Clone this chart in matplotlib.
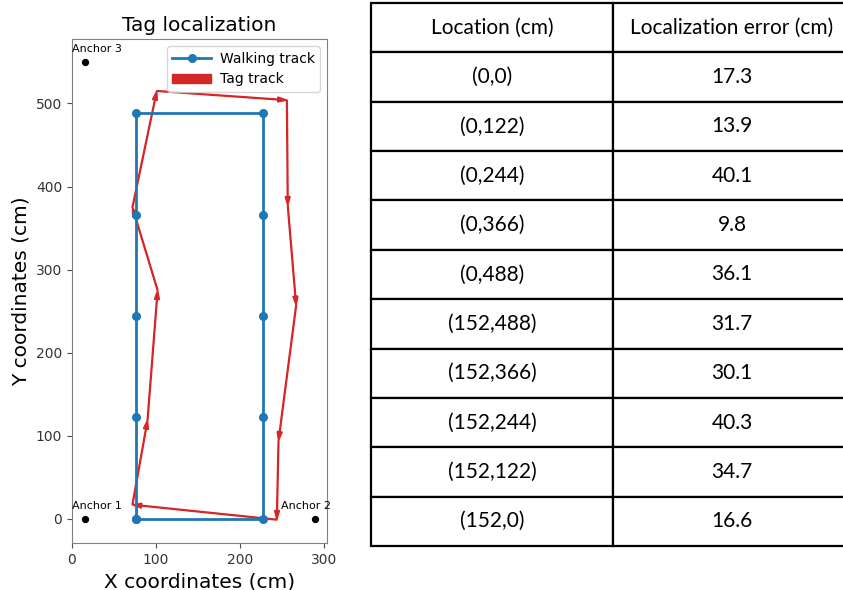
import numpy as np
import matplotlib
matplotlib.use('Agg')
import matplotlib.pyplot as plt

# walking track (rectangle, cm)
walk_x = [76, 76, 76, 76, 76, 228, 228, 228, 228, 228, 76]
walk_y = [0, 122, 244, 366, 488, 488, 366, 244, 122, 0, 0]

# estimated tag positions in walking order
tag_x = [72, 90, 102, 72, 101, 256, 257, 267, 246, 244]
tag_y = [17, 119, 275, 375, 515, 504, 377, 257, 94, -1]

anchor_x = [15, 290, 15]
anchor_y = [0, 0, 550]
anchor_names = ['Anchor 1', 'Anchor 2', 'Anchor 3']
anchor_text_pos = [(0, 10), (249, 10), (0, 560)]

locations = ['(0,0)', '(0,122)', '(0,244)', '(0,366)', '(0,488)',
             '(152,488)', '(152,366)', '(152,244)', '(152,122)', '(152,0)']
errors = ['17.3', '13.9', '40.1', '9.8', '36.1', '31.7', '30.1', '40.3', '34.7', '16.6']
col_labels = ['Location (cm)', 'Localization error (cm)']

fig = plt.figure(figsize=(8.43, 5.90), dpi=100)

ax = fig.add_axes([72/843, 1 - 543/590, 255/843, 504/590])
ax.plot(walk_x, walk_y, '-o', color='tab:blue', lw=2, ms=5.5, label='Walking track')

n = len(tag_x)
for i in range(n):
    x0, y0 = tag_x[i], tag_y[i]
    x1, y1 = tag_x[(i + 1) % n], tag_y[(i + 1) % n]
    ax.arrow(x0, y0, x1 - x0, y1 - y0, width=1.0, head_width=6, head_length=11,
             length_includes_head=True, color='tab:red',
             label='Tag track' if i == 0 else None)

ax.scatter(anchor_x, anchor_y, color='black', s=18, zorder=3)
for name, (tx, ty) in zip(anchor_names, anchor_text_pos):
    ax.text(tx, ty, name, fontsize=8, ha='left', va='bottom', clip_on=False)

ax.set_title('Tag localization', fontsize=14.5)
ax.set_xlabel('X coordinates (cm)', fontsize=14.5)
ax.set_ylabel('Y coordinates (cm)', fontsize=14.5)
ax.set_xticks([0, 100, 200, 300])
ax.set_yticks([0, 100, 200, 300, 400, 500])
for s in ax.spines.values():
    s.set_color('0.5')
ax.tick_params(colors='0.3', labelcolor='0.2')
ax.legend(loc='upper right', fontsize=10, handlelength=2.8, handletextpad=0.6)

# table on the right
tax = fig.add_axes([371/843, 1 - 546/590, 480/843, 543/590])
tax.axis('off')
cells = [[loc, err] for loc, err in zip(locations, errors)]
tbl = tax.table(cellText=cells, colLabels=col_labels, cellLoc='center',
                colWidths=[242/480, 238/480], bbox=[0, 0, 1, 1])
tbl.auto_set_font_size(False)
for (r, c), cell in tbl.get_celld().items():
    cell.set_linewidth(1.6)
    cell.set_edgecolor('black')
    cell.get_text().set_fontsize(15)
    cell.get_text().set_fontfamily('Lato')

fig.savefig('out.png', dpi=100)
